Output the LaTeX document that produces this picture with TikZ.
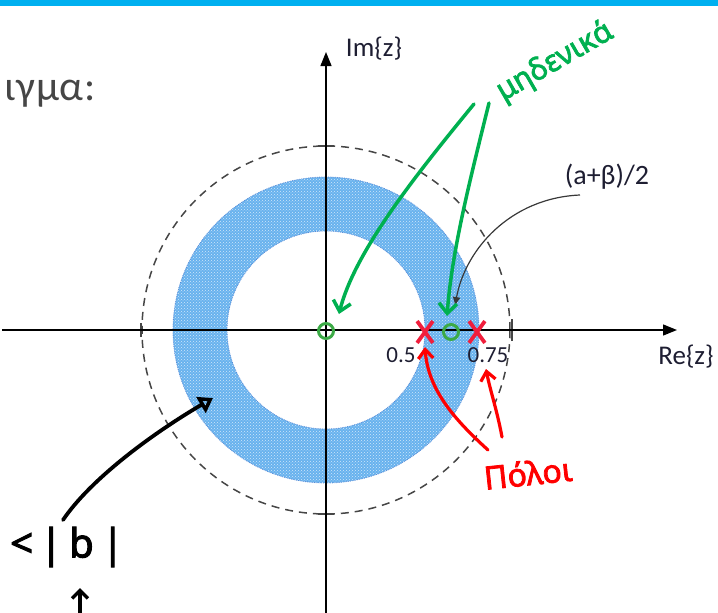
\documentclass[tikz,border=0pt]{standalone}
\usepackage{fontspec}
\setmainfont{Carlito}
\newfontfamily\handfont[FakeBold=2.5]{Noto Sans}
\newfontfamily\titlefont[LetterSpace=2]{Carlito}
\usetikzlibrary{arrows.meta,shapes.misc,patterns}
\definecolor{barblue}{RGB}{0,176,240}
\definecolor{titlegray}{RGB}{70,70,70}
\definecolor{ringblue}{RGB}{104,178,238}
\definecolor{ringedge}{RGB}{90,140,215}
\definecolor{dashgray}{RGB}{70,70,70}
\definecolor{labelink}{RGB}{30,30,50}
\definecolor{zerogreen}{RGB}{60,170,70}
\definecolor{polered}{RGB}{240,30,60}
\definecolor{handgreen}{RGB}{0,176,80}
\definecolor{handred}{RGB}{255,0,0}
\begin{document}
\begin{tikzpicture}[x=1pt,y=-1pt,
  axis/.style={line width=1.3pt,black,-{Triangle[length=14pt,width=11pt]}},
  dashcirc/.style={dashgray,line width=1.5pt,dash pattern=on 8pt off 6pt},
  tickmark/.style={dashgray,line width=1.5pt},
  lbl/.style={text=labelink,inner sep=0pt,font=\fontsize{27}{29}\selectfont},
  numlbl/.style={text=labelink,inner sep=0pt,font=\fontsize{23}{25}\selectfont},
  zero/.style={circle,draw=zerogreen,line width=3pt,minimum size=15pt,inner sep=0pt},
  pole/.style={cross out,draw=polered,line width=3.8pt,minimum width=12pt,minimum height=18pt,inner sep=0pt},
  hand/.style={inner sep=0pt,font=\handfont\fontsize{30}{32}\selectfont},
  greenarrow/.style={handgreen,line width=3.5pt,line cap=round,-{Straight Barb[length=10pt,width=18pt,line width=3.5pt]}},
  redarrow/.style={handred,line width=3.2pt,line cap=round,-{Straight Barb[length=9pt,width=15pt,line width=3.2pt]}},
  blackarrow/.style={black,line width=3.8pt,line cap=round,-{Triangle[open,length=14pt,width=18pt,line width=3.5pt]}},
  thinarrow/.style={dashgray!80!black,line width=1.2pt,-{Latex[length=9pt,width=8pt]}}
]
\useasboundingbox (0,0) rectangle (718,613);
\fill[barblue] (0,0) rectangle (718,6);
\node[anchor=base east,inner sep=0pt,text=titlegray,font=\titlefont\fontsize{42}{44}\selectfont] (title) at (96,100) {ιγμα:};

% annulus
\coordinate (O) at (326,330);
\fill[ringblue,even odd rule] (O) circle[radius=153pt] (O) circle[radius=99pt];
\fill[pattern=crosshatch dots,pattern color=white!70!ringblue,even odd rule] (O) circle[radius=153pt] (O) circle[radius=99pt];
\draw[ringedge,line width=0.8pt,densely dotted] (O) circle[radius=153pt] (O) circle[radius=99pt];

% dashed unit circle
\draw[dashcirc] (O) circle[radius=184pt];
\coordinate (tR) at (512,330);
\coordinate (tL) at (141,330);
\coordinate (tT) at (326,146);
\coordinate (tB) at (326,514);
\draw[tickmark] ([yshift=-11pt]tR) -- ([yshift=11pt]tR);
\draw[tickmark] ([yshift=-7pt]tL) -- ([yshift=7pt]tL);
\draw[tickmark] ([xshift=-8pt]tT) -- ([xshift=8pt]tT);
\draw[tickmark] ([xshift=-8pt]tB) -- ([xshift=8pt]tB);

% axes
\coordinate (xs) at (2,330);
\coordinate (xe) at (677,330);
\coordinate (ys) at (326,613);
\coordinate (ye) at (326,52);
\draw[axis] (xs) -- (xe);
\draw[axis] (ys) -- (ye);
\node[lbl] (im) at (374,49) {Im\{z\}};
\node[lbl] (re) at (686,357) {Re\{z\}};
\node[numlbl] (half) at (401,355) {0.5};
\node[numlbl] (tq) at (488,355) {0.75};

% zeros and poles
\node[zero] (z1) at (326,331) {};
\node[zero] (z2) at (451,332) {};
\node[pole] (p1) at (425,332) {};
\node[pole] (p2) at (477,332) {};

% (a+b)/2 label
\node[lbl,font=\fontsize{28}{30}\selectfont] (mid) at (607,177) {(a+β)/2};
\coordinate (midS) at (580,195);
\coordinate (midE) at (455,306);
\draw[thinarrow] (midS) .. controls (510,198) and (465,250) .. (midE);

% green annotation
\node[hand,text=handgreen,rotate=30] (mh) at (555,62) {μηδενικά};
\coordinate (g1s) at (474,104);
\coordinate (g1e) at (339,314);
\coordinate (g2s) at (489,103);
\coordinate (g2e) at (447,316);
\draw[greenarrow] (g1s) .. controls (420,170) and (355,250) .. (g1e);
\draw[greenarrow] (g2s) .. controls (470,180) and (452,250) .. (g2e);

% red annotation
\node[hand,text=handred,rotate=6,font=\handfont\fontsize{32}{34}\selectfont] (pol) at (528,473) {Πόλοι};
\coordinate (r1s) at (488,450);
\coordinate (r1e) at (425,347);
\coordinate (r2s) at (502,437);
\coordinate (r2e) at (486,369);
\draw[redarrow] (r1s) .. controls (455,420) and (428,390) .. (r1e);
\draw[redarrow] (r2s) .. controls (497,410) and (490,390) .. (r2e);

% black annotation
\node[hand,text=black,font=\handfont\fontsize{40}{42}\selectfont] (bb) at (67,547) {<\kern7pt|\kern7pt b\kern8pt|};
\coordinate (bs) at (63,520);
\coordinate (be) at (213,398);
\draw[blackarrow] (bs) .. controls (90,480) and (150,435) .. (be);
\coordinate (us) at (80,613);
\coordinate (ue) at (80,588);
\draw[black,line width=3.5pt,line cap=round,-{Straight Barb[length=8pt,width=16pt,line width=3.5pt]}] (us) -- (ue);
\end{tikzpicture}
\end{document}
